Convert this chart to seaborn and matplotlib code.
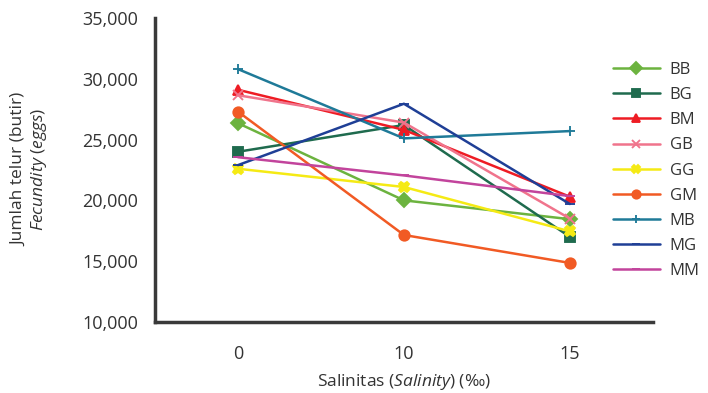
import pandas as pd
import seaborn as sns
import matplotlib.pyplot as plt
from matplotlib.ticker import StrMethodFormatter

# Data
salinity = ['0', '10', '15']
groups = ['BB', 'BG', 'BM', 'GB', 'GG', 'GM', 'MB', 'MG', 'MM']
bb = [26350, 20000, 18450]
bg = [24000, 26200, 17000]
bm = [29100, 25800, 20300]
gb = [28650, 26400, 18500]
gg = [22600, 21100, 17450]
gm = [27300, 17150, 14850]
mb = [30800, 25100, 25700]
mg = [22900, 27950, 19700]
mm = [23550, 22050, 20350]
values = [bb, bg, bm, gb, gg, gm, mb, mg, mm]

colors = ['#6cb33f', '#1f6b4e', '#ee1c24', '#f0748c', '#f5ea14',
          '#f15a24', '#1f7a98', '#1f3f96', '#c2449c']
markers = ['D', 's', '^', 'x', 'X', 'o', '+', '_', '_']

rows = []
for g, vals in zip(groups, values):
    for s, v in zip(salinity, vals):
        rows.append({'Salinity': s, 'Eggs': v, 'Group': g})
df = pd.DataFrame(rows)

sns.set_style('white')
plt.rcParams['font.family'] = ['Open Sans', 'DejaVu Sans']
plt.rcParams['mathtext.fontset'] = 'custom'
plt.rcParams['mathtext.rm'] = 'Open Sans'
plt.rcParams['mathtext.it'] = 'Open Sans:italic'

text_color = '#333333'
axis_color = '#3a3a3a'

fig = plt.figure(figsize=(7.08, 3.93), dpi=100)
ax = fig.add_axes([0.219, 0.181, 0.703, 0.773])

sns.pointplot(data=df, x='Salinity', y='Eggs', hue='Group', order=salinity,
              hue_order=groups, palette=colors, markers=markers,
              linestyles='-', markersize=7.5, linewidth=1.8, ax=ax,
              errorbar=None)

ax.set_xlim(-0.5, 2.5)
ax.set_ylim(10000, 35000)
ax.set_yticks(range(10000, 35001, 5000))
ax.yaxis.set_major_formatter(StrMethodFormatter('{x:,.0f}'))

# boundary ticks between categories, labels centred on categories
ax.set_xticks([-0.5, 0.5, 1.5, 2.5])
ax.set_xticklabels([])
ax.set_xticks([0, 1, 2], minor=True)
ax.set_xticklabels(salinity, minor=True)
ax.tick_params(axis='x', which='minor', length=0, pad=17,
               labelsize=13, labelcolor=text_color)
ax.tick_params(axis='x', which='major', length=6, width=2.5, color=axis_color)
ax.tick_params(axis='y', length=6, width=2.5, color=axis_color,
               labelsize=13, labelcolor=text_color, pad=6)

for side in ['top', 'right']:
    ax.spines[side].set_visible(False)
for side in ['left', 'bottom']:
    ax.spines[side].set_linewidth(2.5)
    ax.spines[side].set_color(axis_color)

ax.set_xlabel('')
ax.set_ylabel('')
fig.text(0.571, 0.028, r'Salinitas ($\mathit{Salinity}$) (‰)', ha='center',
         va='center', fontsize=12.5, color=text_color)
fig.text(0.027, 0.57, 'Jumlah telur (butir)', rotation=90, ha='center',
         va='center', fontsize=12.5, color=text_color)
fig.text(0.055, 0.57, r'$\mathit{Fecundity}$ ($\mathit{eggs}$)', rotation=90,
         ha='center', va='center', fontsize=12.5, color=text_color)

handles, labels = ax.get_legend_handles_labels()
for h in handles:
    h.set_markersize(6)
ax.legend(handles, labels, loc='upper left', bbox_to_anchor=(0.89, 0.905),
          frameon=False, fontsize=12, labelspacing=0.55, handlelength=2.8,
          handletextpad=0.6, labelcolor=text_color)

fig.savefig('out.png', dpi=100)
